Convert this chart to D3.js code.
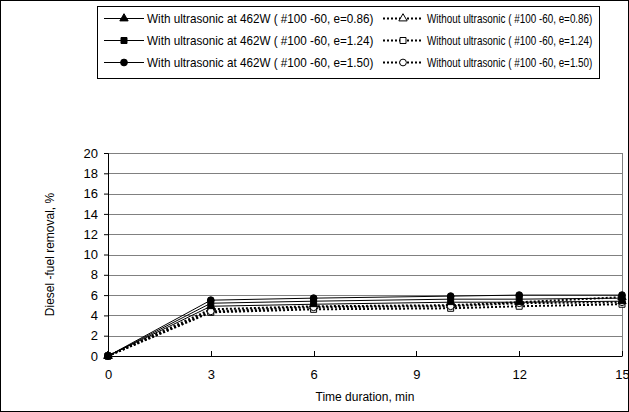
<!DOCTYPE html>
<html>
<head>
<meta charset="utf-8">
<script src="https://cdn.jsdelivr.net/npm/d3@7"></script>
<style>
  body { margin: 0; background: #fff; }
  text { font-family: "Liberation Sans", Arial, sans-serif; fill: #000; }
</style>
</head>
<body>
<div class="chart"></div>
<script>
var svgWidth = 629;
var svgHeight = 412;

// time axis (min)
var times = [0, 3, 6, 10, 12, 15];
var xTicks = [0, 3, 6, 9, 12, 15];
var yTicks = [0, 2, 4, 6, 8, 10, 12, 14, 16, 18, 20];

// diesel-fuel removal, %
var withE086 = [0, 4.9, 5.1, 5.3, 5.3, 5.4];
var withE124 = [0, 5.2, 5.4, 5.6, 5.6, 5.7];
var withE150 = [0, 5.5, 5.7, 5.9, 6.0, 6.0];
var withoutE086 = [0, 4.6, 4.9, 5.0, 5.3, 5.8];
var withoutE124 = [0, 4.3, 4.6, 4.7, 4.9, 5.1];
var withoutE150 = [0, 4.4, 4.8, 4.9, 5.2, 5.3];

var seriesLabels = [
  "With ultrasonic at 462W ( #100 -60, e=0.86)",
  "With ultrasonic at 462W ( #100 -60, e=1.24)",
  "With ultrasonic at 462W ( #100 -60, e=1.50)",
  "Without ultrasonic ( #100 -60, e=0.86)",
  "Without ultrasonic ( #100 -60, e=1.24)",
  "Without ultrasonic ( #100 -60, e=1.50)"
];

var series = [
  { name: seriesLabels[0], values: withE086, marker: "triangle", dashed: false },
  { name: seriesLabels[1], values: withE124, marker: "square", dashed: false },
  { name: seriesLabels[2], values: withE150, marker: "circle", dashed: false },
  { name: seriesLabels[3], values: withoutE086, marker: "triangle", dashed: true },
  { name: seriesLabels[4], values: withoutE124, marker: "square", dashed: true },
  { name: seriesLabels[5], values: withoutE150, marker: "circle", dashed: true }
];

var margin = { top: 153, right: 7, bottom: 56, left: 108 };
var width = svgWidth - margin.left - margin.right;
var height = svgHeight - margin.top - margin.bottom;

var svg = d3.select(".chart")
  .append("svg")
  .attr("width", svgWidth)
  .attr("height", svgHeight);

// outer frame
svg.append("rect")
  .attr("x", 0.5).attr("y", 0.5)
  .attr("width", svgWidth - 1).attr("height", svgHeight - 1)
  .attr("fill", "none").attr("stroke", "#000");

var chartGroup = svg.append("g")
  .attr("transform", `translate(${margin.left}, ${margin.top})`);

var xScale = d3.scaleLinear().domain([0, 15]).range([0, width]);
var yScale = d3.scaleLinear().domain([0, 20]).range([height, 0]);

// gridlines
chartGroup.selectAll(".grid")
  .data(yTicks.filter(d => d > 0))
  .enter().append("line")
  .attr("x1", 0).attr("x2", width)
  .attr("y1", d => Math.round(yScale(d)) + 0.5).attr("y2", d => Math.round(yScale(d)) + 0.5)
  .attr("stroke", "#808080");

// right border of plot area
chartGroup.append("line")
  .attr("x1", width + 0.5).attr("x2", width + 0.5)
  .attr("y1", 0).attr("y2", height)
  .attr("stroke", "#808080");

// axes
var bottomAxis = d3.axisBottom(xScale).tickValues(xTicks).tickSize(0).tickPadding(14);
var leftAxis = d3.axisLeft(yScale).tickValues(yTicks).tickSize(4).tickPadding(6);

var xAxis = chartGroup.append("g")
  .attr("transform", `translate(0, ${height})`)
  .call(bottomAxis);
xAxis.select(".domain").attr("stroke", "#000");
xAxis.selectAll("text").style("font-size", "13px");

// inner tick marks on x axis
chartGroup.selectAll(".xtick")
  .data(xTicks.filter(d => d > 0))
  .enter().append("line")
  .attr("x1", d => Math.round(xScale(d)) + 0.5).attr("x2", d => Math.round(xScale(d)) + 0.5)
  .attr("y1", height).attr("y2", height - 5)
  .attr("stroke", "#000");

var yAxis = chartGroup.append("g").call(leftAxis);
yAxis.select(".domain").attr("stroke", "#000");
yAxis.selectAll("text").style("font-size", "13px");

// axis titles
chartGroup.append("text")
  .attr("x", width / 2)
  .attr("y", height + 45)
  .attr("text-anchor", "middle")
  .style("font-size", "12px")
  .text("Time duration, min");

chartGroup.append("text")
  .attr("transform", "rotate(-90)")
  .attr("x", -height / 2)
  .attr("y", -54)
  .attr("text-anchor", "middle")
  .style("font-size", "12px")
  .text("Diesel -fuel removal, %");

var line = d3.line()
  .x((d, i) => xScale(times[i]))
  .y(d => yScale(d));

var symbolTypes = {
  triangle: d3.symbolTriangle,
  square: d3.symbolSquare,
  circle: d3.symbolCircle
};

// draw dashed series first, solid on top
var order = [3, 4, 5, 0, 1, 2];
order.forEach(function(k) {
  var s = series[k];
  chartGroup.append("path")
    .datum(s.values)
    .attr("d", line)
    .attr("fill", "none")
    .attr("stroke", "#000")
    .attr("stroke-width", s.dashed ? 2 : 1)
    .attr("stroke-dasharray", s.dashed ? "2,2" : null);
});

order.forEach(function(k) {
  var s = series[k];
  chartGroup.selectAll(".pt" + k)
    .data(s.values)
    .enter().append("path")
    .attr("transform", (d, i) => `translate(${xScale(times[i])}, ${yScale(d)})`)
    .attr("d", d3.symbol().type(symbolTypes[s.marker]).size(s.marker === "triangle" ? 30 : 36))
    .attr("fill", s.dashed ? "#fff" : "#000")
    .attr("stroke", "#000")
    .attr("stroke-width", 1);
});

// legend (text is a narrow font in the original, so squeeze it horizontally)
var legend = svg.append("g").attr("transform", "translate(97, 6)");
legend.append("rect")
  .attr("x", 0.5).attr("y", 0.5)
  .attr("width", 502).attr("height", 72)
  .attr("fill", "#fff").attr("stroke", "#000");

var colX = [7, 286];
var colSquash = [0.9, 0.76];
var rowY = [12, 34, 56];
series.forEach(function(s, k) {
  var col = s.dashed ? 1 : 0;
  var row = k % 3;
  var g = legend.append("g")
    .attr("transform", `translate(${colX[col]}, ${rowY[row]})`);
  g.append("line")
    .attr("x1", 0).attr("x2", 40)
    .attr("y1", 0.5).attr("y2", 0.5)
    .attr("stroke", "#000")
    .attr("stroke-width", s.dashed ? 2 : 1)
    .attr("stroke-dasharray", s.dashed ? "2,2" : null);
  g.append("path")
    .attr("transform", "translate(20, 0.5)")
    .attr("d", d3.symbol().type(symbolTypes[s.marker]).size(s.marker === "triangle" ? 30 : 36))
    .attr("fill", s.dashed ? "#fff" : "#000")
    .attr("stroke", "#000");
  g.append("text")
    .attr("transform", `translate(${col ? 44 : 43}, 5) scale(${colSquash[col]}, 1)`)
    .style("font-size", "13px")
    .text(s.name);
});
</script>
</body>
</html>
